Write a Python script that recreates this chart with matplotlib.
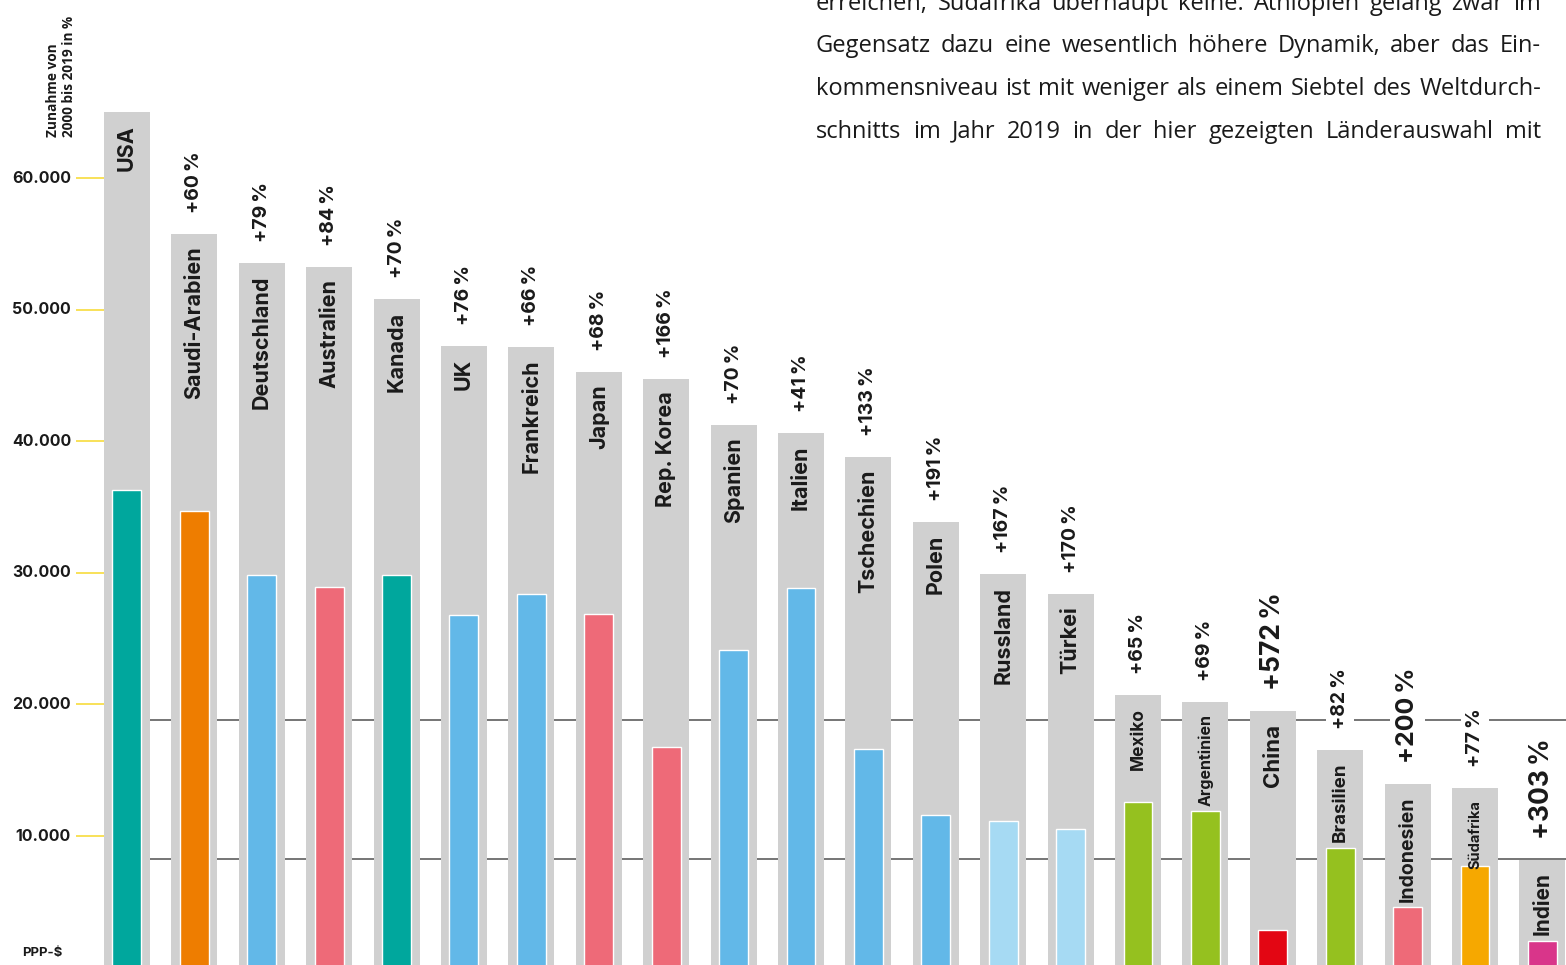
import matplotlib
matplotlib.use("Agg")
import matplotlib.pyplot as plt

plt.rcParams['font.family'] = ['Inter', 'DejaVu Sans']

# BIP pro Kopf in PPP-$ (2019 = grauer Balken, 2000 = farbiger Balken)
countries = ['USA', 'Saudi-Arabien', 'Deutschland', 'Australien', 'Kanada', 'UK',
             'Frankreich', 'Japan', 'Rep. Korea', 'Spanien', 'Italien', 'Tschechien',
             'Polen', 'Russland', 'Türkei', 'Mexiko', 'Argentinien', 'China',
             'Brasilien', 'Indonesien', 'Südafrika', 'Indien']
gdp_2019 = [65000, 55750, 53550, 53250, 50800, 47250, 47150, 45300, 44750, 41250,
            40650, 38800, 33850, 29900, 28400, 20700, 20200, 19500, 16550, 13950,
            13650, 8200]
gdp_2000 = [36300, 34700, 29850, 28950, 29850, 26800, 28400, 26850, 16750, 24150,
            28850, 16600, 11600, 11150, 10550, 12600, 11900, 2850, 9100, 4600,
            7700, 2000]
growth = [None, 60, 79, 84, 70, 76, 66, 68, 166, 70, 41, 133, 191, 167, 170, 65,
          69, 572, 82, 200, 77, 303]
world_2019 = 18800
world_2000 = 8250
yticks = [10000, 20000, 30000, 40000, 50000, 60000]

teal, orange, blue, pink = '#00A79D', '#EE7D00', '#62B8E8', '#EE6A78'
pale, green, red, yellow, magenta = '#A6DAF3', '#95C11F', '#E30613', '#F6A800', '#D9358A'
colors = [teal, orange, blue, pink, teal, blue, blue, pink, pink, blue, blue, blue,
          blue, pale, pale, green, green, red, green, pink, yellow, magenta]

name_size = {'Argentinien': 11.5, 'Südafrika': 10.5, 'Brasilien': 13.5, 'China': 16,
             'Mexiko': 12.5, 'Indonesien': 14, 'Indien': 15}
pct_size = {572: 19, 200: 18, 303: 19}

W, H = 1566, 965
fig = plt.figure(figsize=(W / 100, H / 100), dpi=100)
ax = fig.add_axes([0, 0, 1, 1])
ax.set_xlim(-1.884, 21.35)
ax.set_ylim(198, 73540)
ax.axis('off')

x = list(range(len(countries)))
ax.bar(x, gdp_2019, width=0.68, color='#D0D0D0', zorder=2)
ax.bar(x, gdp_2000, width=0.43, color=colors, edgecolor='white', linewidth=1, zorder=3)

# Weltdurchschnitt 2019 / 2000
ax.hlines([world_2019, world_2000], 0.34, 21.35, color='#6A6A6A', lw=1.3, zorder=1)

# y-Achse
ax.hlines(yticks, -0.757, -0.34, color='#F7DC3C', lw=1.2)
for v in yticks:
    ax.text(-0.83, v, f"{v:,}".replace(',', '.'), ha='right', va='center',
            fontsize=11.5, fontweight='bold', color='#1a1a1a')
fig.text(22 / W, 1 - 953 / H, 'PPP-$', ha='left', va='center', fontsize=9.5,
         fontweight='bold', color='#1a1a1a')
fig.text(61 / W, 1 - 137 / H, 'Zunahme von\n2000 bis 2019 in %', rotation=90,
         ha='center', va='bottom', multialignment='left', fontsize=9.8,
         fontweight='bold', family=['Open Sans', 'DejaVu Sans'], linespacing=1.1,
         color='#1a1a1a')

for i, (name, v19, g) in enumerate(zip(countries, gdp_2019, growth)):
    ax.annotate(name, (i, v19), xytext=(0, -9), textcoords='offset points',
                rotation=90, ha='center', va='top', fontsize=name_size.get(name, 15.5),
                fontweight='bold', color='#1a1a1a', zorder=4)
    if g is not None:
        ax.annotate(f"+{g}\u2009%", (i, v19), xytext=(0, 15), textcoords='offset points',
                    rotation=90, ha='center', va='bottom', fontsize=pct_size.get(g, 14),
                    fontweight='bold', color='#1a1a1a', zorder=4,
                    bbox=dict(boxstyle='square,pad=0.25', fc='white', ec='none'))

# Fliesstext oben rechts (Blocksatz), erste Zeile oben angeschnitten wie im Original
para = ["erreichen, Südafrika überhaupt keine. Äthiopien gelang zwar im",
        "Gegensatz dazu eine wesentlich höhere Dynamik, aber das Ein-",
        "kommensniveau ist mit weniger als einem Siebtel des Weltdurch-",
        "schnitts im Jahr 2019 in der hier gezeigten Länderauswahl mit"]
left, right = 816, 1541
renderer = fig.canvas.get_renderer()
for k, line in enumerate(para):
    base = 10 + 42.5 * k
    words = line.split(' ')
    texts = [fig.text(0, 1 - base / H, w, ha='left', va='baseline', fontsize=17,
                      family=['Open Sans', 'DejaVu Sans'], color='#1a1a1a')
             for w in words]
    widths = [t.get_window_extent(renderer).width for t in texts]
    gap = (right - left - sum(widths)) / (len(words) - 1)
    pos = left
    for t, w in zip(texts, widths):
        t.set_x(pos / W)
        pos += w + gap

fig.savefig('out.png', dpi=100)
